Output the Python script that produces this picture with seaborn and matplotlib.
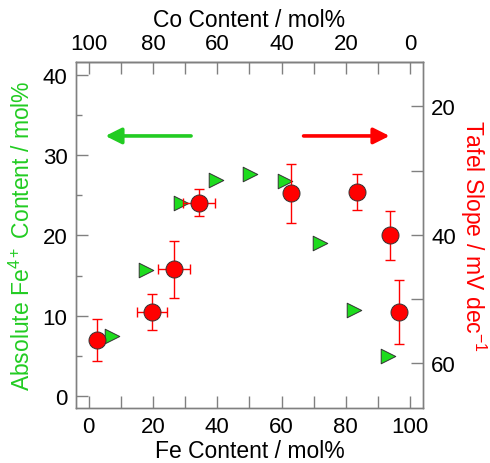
import matplotlib
matplotlib.use("Agg")
import matplotlib.pyplot as plt
import seaborn as sns
import pandas as pd
from matplotlib.ticker import MultipleLocator

# Fe4+ content (left axis)
fe4_fe = [7.2, 17.7, 28.7, 39.6, 50.1, 61.0, 71.9, 82.6, 93.3]
fe4_val = [7.5, 15.7, 24.0, 26.9, 27.6, 26.8, 19.1, 10.7, 5.0]

# Tafel slope (right axis)
taf_fe = [2.5, 19.7, 26.5, 34.4, 63.1, 83.6, 93.7, 96.5]
taf_val = [56.4, 52.0, 45.4, 35.0, 33.5, 33.3, 40.1, 52.0]
taf_yerr = [3.3, 2.8, 4.5, 2.1, 4.6, 2.8, 3.8, 5.0]
taf_xerr = [0, 4.8, 4.9, 5.0, 0, 0, 0, 0]

GREEN = "#22CC22"
RED = "#FF0000"

df_fe4 = pd.DataFrame({"Fe": fe4_fe, "Fe4": fe4_val})
df_taf = pd.DataFrame({"Fe": taf_fe, "Tafel": taf_val})

sns.set_style("ticks")
plt.rcParams['font.family'] = ['Liberation Sans', 'DejaVu Sans']
plt.rcParams['mathtext.fontset'] = 'custom'
plt.rcParams['mathtext.rm'] = 'Liberation Sans'
plt.rcParams['mathtext.it'] = 'Liberation Sans'
plt.rcParams['mathtext.default'] = 'regular'
plt.rcParams['axes.edgecolor'] = '#808080'
plt.rcParams['axes.linewidth'] = 1.0
plt.rcParams['text.color'] = 'black'
plt.rcParams['axes.labelcolor'] = 'black'

fig = plt.figure(figsize=(4.9, 4.64), dpi=100)
ax = fig.add_axes([0.155, 0.1185, 0.708, 0.7455])

sns.scatterplot(data=df_fe4, x="Fe", y="Fe4", ax=ax, marker=">", s=110,
                color="#1EDC1E", edgecolor="#333333", linewidth=0.7, zorder=3)
ax.set_xlim(-4, 104)
ax.set_ylim(-1.5, 41.6)
ax.set_xlabel("Fe Content / mol%", fontsize=16.5, labelpad=1)
ax.set_ylabel("Absolute Fe$^{4+}$ Content / mol%", fontsize=16.5, color=GREEN, labelpad=6)
ax.xaxis.set_major_locator(MultipleLocator(20))
ax.xaxis.set_minor_locator(MultipleLocator(10))
ax.yaxis.set_major_locator(MultipleLocator(10))
ax.yaxis.set_minor_locator(MultipleLocator(5))
ax.tick_params(axis='x', which='both', direction='in', length=8.6, width=1.0,
               color='#808080', labelcolor='black', labelsize=16, pad=6)
ax.tick_params(axis='y', which='major', direction='in', length=8.6, width=1.0,
               color='#808080', labelcolor='black', labelsize=16, pad=6)
ax.tick_params(axis='y', which='minor', direction='in', length=4.3, width=1.0,
               color='#808080')

# top axis: Co content
top = ax.secondary_xaxis('top', functions=(lambda x: 100 - x, lambda x: 100 - x))
top.xaxis.set_major_locator(MultipleLocator(20))
top.xaxis.set_minor_locator(MultipleLocator(10))
top.tick_params(axis='x', which='both', direction='in', length=8.6, width=1.0,
                color='#808080', labelcolor='black', labelsize=16, pad=6)
top.set_xlabel("Co Content / mol%", fontsize=16.5, labelpad=5)

# right axis: Tafel slope
ax2 = ax.twinx()
ax2.errorbar(taf_fe, taf_val, yerr=taf_yerr, xerr=taf_xerr, fmt='none',
             ecolor=RED, elinewidth=1.0, capsize=3.6, capthick=1.0, zorder=2)
sns.scatterplot(data=df_taf, x="Fe", y="Tafel", ax=ax2, marker="o", s=150,
                color=RED, edgecolor="#333333", linewidth=0.7, zorder=3)
ax2.set_ylim(67.0, 13.1)
ax2.yaxis.set_major_locator(MultipleLocator(20))
ax2.yaxis.set_minor_locator(MultipleLocator(10))
ax2.tick_params(axis='y', which='both', direction='in', length=8.6, width=1.0,
                color='#808080', labelcolor='black', labelsize=16, pad=6)
ax2.set_ylabel("Tafel Slope / mV dec$^{-1}$", fontsize=16.5, color=RED,
               rotation=270, labelpad=23)
ax2.set_xlabel("")

# arrows
ax.annotate("", xy=(4.3, 32.4), xytext=(32.7, 32.4),
            arrowprops=dict(arrowstyle='-|>', color=GREEN, lw=2.6, mutation_scale=24))
ax.annotate("", xy=(94.5, 32.4), xytext=(66.0, 32.4),
            arrowprops=dict(arrowstyle='-|>', color=RED, lw=2.6, mutation_scale=24))

fig.savefig("out.png", dpi=100)
